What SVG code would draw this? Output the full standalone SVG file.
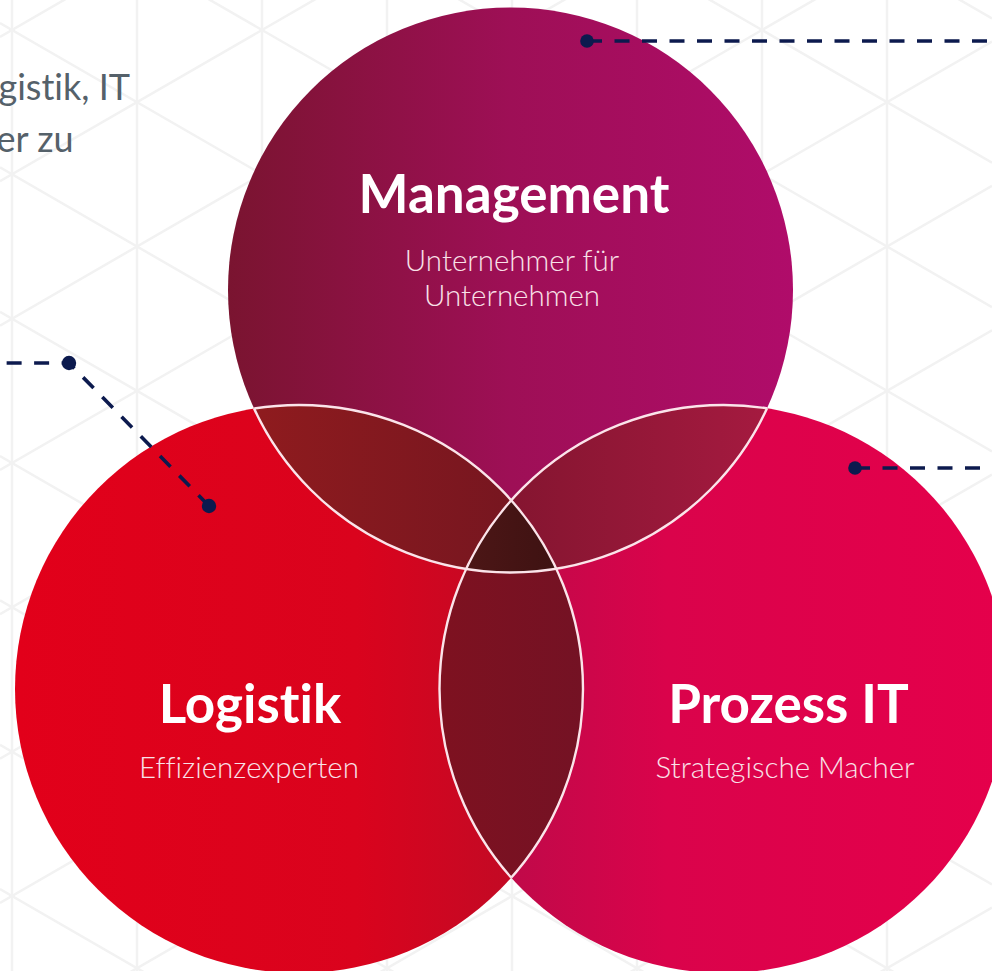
<svg xmlns="http://www.w3.org/2000/svg" width="992" height="971" viewBox="0 0 992 971">
  <defs>
    <style>
      text { font-variant-ligatures: none; font-feature-settings: "liga" 0, "clig" 0; }
      .grid line { stroke: #f2f2f2; stroke-width: 2.5; }
      .title { font-family: Lato, "Liberation Sans", sans-serif; font-weight: 700; fill: #ffffff; text-anchor: middle; font-size: 53px; }
      .sub { font-family: Lato, "Liberation Sans", sans-serif; font-weight: 300; fill: #f9e1e8; text-anchor: middle; font-size: 29.5px; }
      .side { font-family: Lato, "Liberation Sans", sans-serif; font-weight: 400; fill: #55616a; text-anchor: end; font-size: 36px; }
      .dash { fill: none; stroke: #0c1a4e; stroke-width: 3.6; stroke-dasharray: 15 12.5; }
      .dot { fill: #0c1a4e; }
      .outline { fill: none; stroke: #fbe4ea; stroke-width: 2.4; }
    </style>
    <linearGradient id="gM" gradientUnits="userSpaceOnUse" x1="228" y1="0" x2="793" y2="0">
      <stop offset="0" stop-color="#7a1430"/>
      <stop offset="0.5" stop-color="#9e0f56"/>
      <stop offset="1" stop-color="#b00c6a"/>
    </linearGradient>
    <linearGradient id="gL" gradientUnits="userSpaceOnUse" x1="15" y1="0" x2="583" y2="0">
      <stop offset="0" stop-color="#e2001a"/>
      <stop offset="0.6" stop-color="#da031d"/>
      <stop offset="1" stop-color="#b80d28"/>
    </linearGradient>
    <linearGradient id="gP" gradientUnits="userSpaceOnUse" x1="440" y1="0" x2="1008" y2="0">
      <stop offset="0" stop-color="#b40c48"/>
      <stop offset="0.4" stop-color="#da034b"/>
      <stop offset="1" stop-color="#e5004b"/>
    </linearGradient>
    <linearGradient id="gML" gradientUnits="userSpaceOnUse" x1="253" y1="0" x2="512" y2="0">
      <stop offset="0" stop-color="#8f1b1e"/>
      <stop offset="1" stop-color="#771620"/>
    </linearGradient>
    <linearGradient id="gMP" gradientUnits="userSpaceOnUse" x1="512" y1="0" x2="768" y2="0">
      <stop offset="0" stop-color="#851530"/>
      <stop offset="1" stop-color="#a51a40"/>
    </linearGradient>
    <linearGradient id="gLP" gradientUnits="userSpaceOnUse" x1="440" y1="0" x2="583" y2="0">
      <stop offset="0" stop-color="#7e1120"/>
      <stop offset="1" stop-color="#741224"/>
    </linearGradient>
    <linearGradient id="gT" gradientUnits="userSpaceOnUse" x1="470" y1="0" x2="555" y2="0">
      <stop offset="0" stop-color="#4c1616"/>
      <stop offset="1" stop-color="#3e1212"/>
    </linearGradient>
    <clipPath id="cM"><circle cx="510.5" cy="290" r="282.5"/></clipPath>
    <clipPath id="cL"><circle cx="299" cy="689" r="284"/></clipPath>
    <clipPath id="cP"><circle cx="723.5" cy="689" r="284"/></clipPath>
    <clipPath id="cLP"><circle cx="299" cy="689" r="284"/><circle cx="723.5" cy="689" r="284"/></clipPath>
    <clipPath id="cMP"><circle cx="510.5" cy="290" r="282.5"/><circle cx="723.5" cy="689" r="284"/></clipPath>
    <clipPath id="cML"><circle cx="510.5" cy="290" r="282.5"/><circle cx="299" cy="689" r="284"/></clipPath>
  </defs>

  <rect width="992" height="971" fill="#ffffff"/>

  <g class="grid">
    <line x1="12" y1="0" x2="12" y2="971"/>
    <line x1="137" y1="0" x2="137" y2="971"/>
    <line x1="262" y1="0" x2="262" y2="971"/>
    <line x1="387" y1="0" x2="387" y2="971"/>
    <line x1="512" y1="0" x2="512" y2="971"/>
    <line x1="637" y1="0" x2="637" y2="971"/>
    <line x1="762" y1="0" x2="762" y2="971"/>
    <line x1="887" y1="0" x2="887" y2="971"/>
    <line x1="0" y1="-554.29" x2="992" y2="18.44"/>
    <line x1="0" y1="-409.95" x2="992" y2="162.78"/>
    <line x1="0" y1="-265.61" x2="992" y2="307.12"/>
    <line x1="0" y1="-121.27" x2="992" y2="451.46"/>
    <line x1="0" y1="23.07" x2="992" y2="595.80"/>
    <line x1="0" y1="167.41" x2="992" y2="740.14"/>
    <line x1="0" y1="311.75" x2="992" y2="884.48"/>
    <line x1="0" y1="456.09" x2="992" y2="1028.82"/>
    <line x1="0" y1="600.43" x2="992" y2="1173.16"/>
    <line x1="0" y1="744.77" x2="992" y2="1317.50"/>
    <line x1="0" y1="889.11" x2="992" y2="1461.84"/>
    <line x1="0" y1="36.93" x2="992" y2="-535.80"/>
    <line x1="0" y1="181.27" x2="992" y2="-391.46"/>
    <line x1="0" y1="325.61" x2="992" y2="-247.12"/>
    <line x1="0" y1="469.95" x2="992" y2="-102.78"/>
    <line x1="0" y1="614.29" x2="992" y2="41.56"/>
    <line x1="0" y1="758.63" x2="992" y2="185.90"/>
    <line x1="0" y1="902.97" x2="992" y2="330.24"/>
    <line x1="0" y1="1047.31" x2="992" y2="474.58"/>
    <line x1="0" y1="1191.65" x2="992" y2="618.92"/>
    <line x1="0" y1="1335.99" x2="992" y2="763.26"/>
    <line x1="0" y1="1480.33" x2="992" y2="907.60"/>
  </g>

  <g id="intro-text">
    <text class="side" x="130" y="100">gistik, IT</text>
    <text class="side" x="73.5" y="152">er zu</text>
  </g>

  <g id="node-management">
    <circle cx="510.5" cy="290" r="282.5" fill="url(#gM)"/>
    <text class="title" x="514" y="213">Management</text>
    <text class="sub" x="512" y="271">Unternehmer für</text>
    <text class="sub" x="512" y="306">Unternehmen</text>
  </g>

  <g id="node-logistik">
    <circle cx="299" cy="689" r="284" fill="url(#gL)"/>
    <text class="title" x="250" y="723">Logistik</text>
    <text class="sub" x="249" y="778">Effizienzexperten</text>
  </g>

  <g id="node-prozess-it">
    <circle cx="723.5" cy="689" r="284" fill="url(#gP)"/>
    <text class="title" x="788.5" y="723">Prozess IT</text>
    <text class="sub" x="785" y="778">Strategische Macher</text>
  </g>

  <g id="overlaps">
    <circle cx="299" cy="689" r="284" fill="url(#gML)" clip-path="url(#cM)"/>
    <circle cx="723.5" cy="689" r="284" fill="url(#gMP)" clip-path="url(#cM)"/>
    <circle cx="723.5" cy="689" r="284" fill="url(#gLP)" clip-path="url(#cL)"/>
    <g clip-path="url(#cM)">
      <circle cx="723.5" cy="689" r="284" fill="url(#gT)" clip-path="url(#cL)"/>
    </g>
  </g>

  <g id="outlines">
    <circle class="outline" cx="510.5" cy="290" r="282.5" clip-path="url(#cLP)"/>
    <circle class="outline" cx="299" cy="689" r="284" clip-path="url(#cMP)"/>
    <circle class="outline" cx="723.5" cy="689" r="284" clip-path="url(#cML)"/>
  </g>

  <g id="connectors">
    <path class="dash" d="M587,41 L992,41"/>
    <circle class="dot" cx="587" cy="41" r="6.8"/>
    <path class="dash" d="M209,506 L69,363 L0,363"/>
    <circle class="dot" cx="69" cy="363" r="7.2"/>
    <circle class="dot" cx="209" cy="506" r="7.2"/>
    <path class="dash" d="M855,468 L992,468"/>
    <circle class="dot" cx="855" cy="468" r="6.8"/>
  </g>
</svg>
